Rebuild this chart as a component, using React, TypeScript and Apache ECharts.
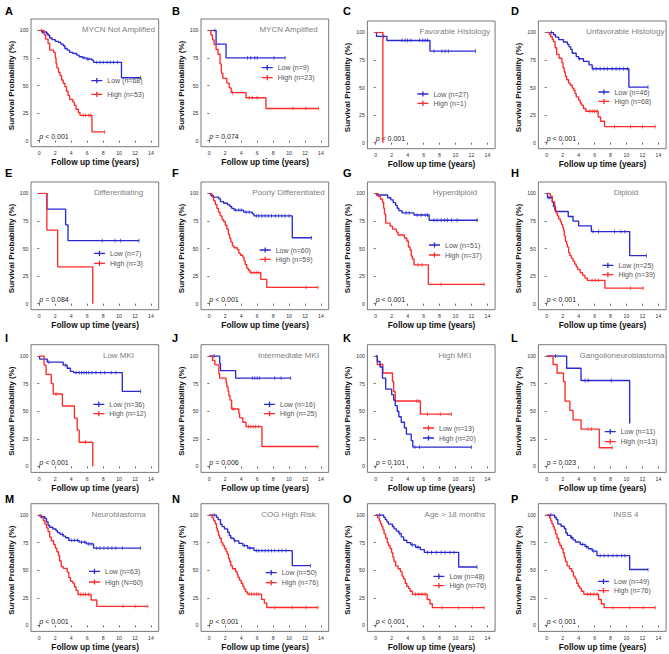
import React, { useEffect, useRef } from 'react';
import * as echarts from 'echarts';

const BLUE = '#2a2ad2';
const RED = '#ff2a2a';
const FONT = '"Liberation Sans", Arial, sans-serif';

// ---------- data: Kaplan-Meier step points [years, survival %], censor times ----------
const aLow = [[0,100],[0.3,98.5],[0.9,97],[1.1,95.5],[1.3,93],[1.6,91.5],[2.0,90],[2.4,89],[2.7,87.5],[3.0,86],[3.2,83.5],[3.5,82],[3.8,80],[4.2,79],[4.7,77.5],[5.0,76],[5.4,75],[5.9,74],[6.6,73],[6.8,71],[10.3,57],[12.7,57]];
const aLowC = [0.4,1.0,5.6,6.1,7.2,7.6,8.0,8.5,8.9,9.3,9.8,12.7];
const aHigh = [[0,100],[0.6,96],[0.8,92],[1.1,88],[1.3,82],[1.8,80],[2.0,75],[2.1,70],[2.2,66],[2.4,62],[2.6,59],[2.8,55],[3.0,52],[3.2,49],[3.4,45],[3.6,41],[3.8,37.5],[4.2,35],[4.4,32],[4.6,28.5],[4.9,25.5],[5.1,23],[6.6,8],[8.2,8]];
const aHighC = [0.3,5.5,5.8,6.2,6.4,8.2];

const bLow = [[0,100],[0.85,87.5],[2.1,75],[9.5,75]];
const bLowC = [0.7,4.8,5.2,5.7,6.0,8.1,9.5];
const bHigh = [[0,100],[0.2,95.7],[0.4,91.3],[0.6,87],[0.85,82.6],[1.1,78.3],[1.35,69.6],[1.5,65.2],[1.55,60.9],[1.7,56.5],[2.2,52.2],[2.5,47.8],[2.75,43.5],[4.6,38.9],[7.1,29.2],[13.7,29.2]];
const bHighC = [2.9,5.0,5.4,6.0,10.5,12.1,13.7];

const cLow = [[0,100],[0.1,96.3],[1.4,92.6],[6.8,83],[12.5,83]];
const cLowC = [1.0,3.3,3.7,4.0,4.4,5.5,5.9,6.2,6.5,7.3,8.3,8.7,9.1,12.5];
const cHigh = [[0,100],[0.9,0]];
const cHighC: number[] = [];

const dLow = [[0,100],[0.85,97.8],[1.1,95.6],[1.5,93.4],[2.1,91.2],[2.6,89],[2.8,86.8],[3.0,84.6],[3.2,81],[3.7,78],[4.0,76],[4.6,73.6],[5.3,70.5],[5.7,67],[10.3,50.3],[12.7,50.3]];
const dLowC = [0.6,4.1,5.8,6.2,6.7,7.2,7.6,8.2,8.7,9.1,9.6,10.1,12.7];
const dHigh = [[0,100],[0.35,98],[0.5,96],[0.7,93.5],[0.85,91.5],[1.05,86],[1.25,80],[1.55,76.5],[1.9,72.5],[2.05,68],[2.2,64],[2.35,60],[2.5,57],[2.75,54],[2.95,52],[3.2,49.5],[3.4,47.5],[3.55,44.5],[3.7,41.5],[4.0,38.5],[4.2,36],[4.35,34],[4.6,31],[4.9,28.5],[6.45,23.3],[6.75,19.4],[7.25,14.6],[13.6,14.6]];
const dHighC = [5.4,5.7,6.0,6.3,8.5,10.5,12.0,13.6];

const eLow = [[0,100],[0.95,85.7],[3.3,71.4],[3.6,57.1],[12.5,57.1]];
const eLowC = [7.9,9.5,10.2,12.5];
const eHigh = [[0,100],[0.95,66.7],[2.3,33.3],[6.7,0]];
const eHighC: number[] = [];

const fLow = [[0,100],[0.15,98.3],[0.5,96.6],[1.2,94.9],[1.4,92.4],[1.8,91],[2.3,89.5],[2.6,88],[2.8,86.4],[3.1,84.7],[4.3,83],[5.4,81.3],[5.6,79.6],[10.4,59.7],[12.8,59.7]];
const fLowC = [0.3,3.3,3.7,4.0,4.6,5.0,5.9,6.2,6.6,7.0,7.4,7.8,8.3,8.7,9.1,9.5,10.0,12.8];
const fHigh = [[0,100],[0.2,98.3],[0.4,96.6],[0.55,93.2],[0.75,89.8],[0.95,86.4],[1.15,83],[1.35,79.6],[1.6,76.2],[1.8,74.5],[2.0,71.1],[2.2,67.7],[2.4,62.6],[2.55,59.2],[2.7,55.8],[2.9,52.4],[3.1,50.7],[3.5,49],[3.7,45.6],[3.9,43.9],[4.2,42.2],[4.35,38.8],[4.5,35.4],[4.7,32],[4.9,30.3],[5.1,28.2],[6.45,22],[7.2,14.8],[13.6,14.8]];
const fHighC = [5.3,5.6,5.9,6.2,12.1,13.6];

const gLow = [[0,100],[0.1,98.5],[1.5,96],[1.9,94.1],[2.2,91.5],[2.5,89],[2.7,86.5],[2.9,84.3],[3.3,82.3],[4.8,80.3],[6.7,75.6],[12.8,75.6]];
const gLowC = [3.8,4.2,5.2,5.7,6.2,6.5,7.3,7.7,8.2,8.6,9.0,9.5,10.2,12.7];
const gHigh = [[0,100],[0.3,97.3],[0.6,94.6],[0.85,91.9],[1.0,86.5],[1.1,81.1],[1.25,73],[1.8,70.3],[2.1,67.6],[2.6,64.9],[2.8,62.2],[3.6,59.5],[3.9,56.8],[4.1,51.4],[4.3,48.6],[4.45,43.2],[4.6,40.5],[4.8,35.1],[6.6,17.5],[13.6,17.5]];
const gHighC = [5.3,5.8,8.2,13.6];

const hLow = [[0,100],[0.1,96],[0.7,92],[0.85,88],[1.1,83.5],[2.7,79],[3.3,74.8],[4.0,70.5],[5.6,65.3],[10.4,43.5],[12.5,43.5]];
const hLowC = [0.3,5.8,6.5,8.5,9.3,9.8,12.5];
const hHigh = [[0,100],[0.45,97.4],[0.7,92.3],[1.0,84.6],[1.2,82],[1.35,79.5],[1.5,76.9],[1.7,74.4],[1.85,71.8],[2.0,69.2],[2.1,66.7],[2.2,61.5],[2.35,56.4],[2.5,53.8],[2.6,51.3],[2.75,46.2],[2.9,43.6],[3.1,41],[3.3,38.5],[3.5,35.9],[3.7,33.3],[3.9,30.8],[4.2,28.2],[4.5,25.6],[4.8,23.1],[5.1,21.1],[7.3,14.1],[12.1,14.1]];
const hHighC = [5.7,6.1,6.5,10.5,12.1];

const iLow = [[0,100],[0.05,97.2],[1.0,94.4],[3.0,91.7],[3.5,88.9],[3.9,86.1],[4.3,85],[10.4,68],[12.7,68]];
const iLowC = [1.2,3.3,4.6,5.0,5.3,5.6,5.9,6.2,6.6,7.1,7.7,8.2,9.0,9.6,12.7];
const iHigh = [[0,100],[0.6,91.7],[0.85,83.3],[1.5,75],[1.75,65.6],[2.9,54.7],[4.4,43.7],[4.75,32.8],[5.0,21.9],[6.7,0]];
const iHighC = [2.1,5.8];

const jLow = [[0,100],[1.3,93.3],[1.4,86.7],[3.3,80],[10.2,80]];
const jLowC = [0.6,5.4,5.7,6.0,6.3,8.2,9.0,10.2];
const jHigh = [[0,100],[0.4,96],[0.7,92],[1.2,84],[1.3,80],[2.1,76],[2.2,72],[2.35,68],[2.45,64],[2.6,60],[2.8,52],[3.7,48],[3.8,44],[4.2,40],[4.6,36],[6.6,18],[13.6,18]];
const jHighC = [3.0,4.9,5.2,5.5,5.8,6.2,13.6];

const kLow = [[0,100],[0.2,92.3],[0.9,84.6],[2.1,76.9],[2.25,67.7],[2.45,59.2],[5.6,47.4],[9.5,47.4]];
const kLowC = [5.1,5.4,6.5,8.1,9.5];
const kHigh = [[0,100],[0.2,95],[0.55,90],[0.85,80],[1.25,70],[2.0,65],[2.25,60],[2.45,55],[2.7,50],[2.9,45],[3.2,40],[3.6,35],[3.85,29.2],[4.45,23.4],[4.65,17.5],[12,17.5]];
const kHighC = [4.9,5.5,12];

const lLow = [[0,100],[2.5,88.9],[4.3,77.8],[10.4,38.9]];
const lLowC = [1.1,4.8,5.2,8.1];
const lHigh = [[0,100],[0.8,92.3],[1.3,84.6],[2.1,76.9],[2.3,59.1],[2.9,50.7],[3.3,42.2],[4.3,33.8],[6.6,16.9],[8.2,16.9]];
const lHighC = [5.2,5.6,8.2];

const mLow = [[0,100],[0.1,98.4],[0.7,96.8],[0.9,93.7],[1.1,90.5],[1.3,88.9],[1.7,87.3],[2.1,85.7],[2.3,84.1],[2.6,82.5],[3.0,80.9],[3.3,79.4],[3.7,77],[5.0,75.4],[5.9,73.8],[6.8,70],[12.7,70]];
const mLowC = [0.3,2.9,4.0,4.4,4.8,5.3,5.7,6.2,6.5,7.2,7.6,8.1,8.6,9.1,9.6,10.4,12.7];
const mHigh = [[0,100],[0.2,98.3],[0.5,95],[0.7,91.7],[0.9,88.3],[1.1,85],[1.3,80],[1.5,76.7],[1.8,73.3],[2.0,70],[2.2,66.7],[2.4,63.3],[2.55,58.3],[2.75,53.3],[3.0,51.7],[3.5,48.3],[3.7,43.3],[3.9,40],[4.2,38.3],[4.4,35],[4.6,31.7],[4.85,28],[6.5,23],[7.2,17.3],[13.6,17.3]];
const mHighC = [5.2,5.5,5.8,6.2,10.5,12.0,13.6];

const nLow = [[0,100],[0.9,97.9],[1.1,95.8],[1.4,91.6],[1.6,89.5],[1.9,87.4],[2.3,84.4],[2.5,81.3],[2.7,78.9],[3.1,76.6],[3.7,74.3],[4.2,72.3],[4.8,70.1],[5.6,67.7],[10.4,54.2],[12.7,54.2]];
const nLowC = [0.6,3.2,4.4,5.1,5.9,6.2,6.6,7.0,7.4,7.8,8.2,8.7,9.1,9.6,12.7];
const nHigh = [[0,100],[0.35,97.4],[0.55,94.7],[0.75,92.1],[0.9,88.2],[1.0,85.5],[1.15,81.6],[1.3,78.9],[1.5,75],[1.7,72.4],[1.9,69.7],[2.1,67.1],[2.25,64.5],[2.4,60.5],[2.55,57.9],[2.7,54],[2.9,51.3],[3.3,48.7],[3.5,46],[3.6,43.4],[3.8,40.8],[4.0,38.2],[4.2,35.5],[4.35,32.9],[4.55,30.3],[4.8,28.3],[6.55,23.6],[6.9,20.2],[7.2,16.2],[13.6,16.2]];
const nHighC = [5.0,5.3,5.6,5.9,6.2,8.2,10.4,12.1,13.6];

const oLow = [[0,100],[1.0,97.9],[1.2,95.8],[1.4,93.8],[1.6,91.7],[2.1,89.6],[2.3,87.5],[2.6,85.4],[2.9,83.3],[3.2,80.2],[3.5,77.1],[3.9,75],[4.4,72.9],[5.0,70.8],[5.6,68.7],[6.1,66.1],[10.4,52.9],[12.7,52.9]];
const oLowC = [0.5,3.0,4.6,5.3,6.5,7.0,7.6,8.2,8.7,9.3,9.8,12.7];
const oHigh = [[0,100],[0.25,97.4],[0.45,94.7],[0.6,92.1],[0.75,89.5],[0.9,86.8],[1.05,82.9],[1.25,78.9],[1.45,75],[1.6,72.4],[1.8,69.7],[2.0,65.8],[2.15,61.8],[2.3,57.9],[2.5,53.9],[2.8,51.3],[3.1,48.7],[3.3,44.7],[3.5,42.1],[3.7,38.2],[3.9,35.5],[4.1,33.6],[4.3,30.9],[4.6,28.2],[6.45,23.5],[6.8,19.6],[7.1,16.1],[13.6,16.1]];
const oHighC = [5.0,5.4,5.8,6.2,8.3,10.4,12.1,13.6];

const pLow = [[0,100],[1.0,98],[1.2,95.9],[1.4,91.8],[1.8,89.8],[2.2,87.8],[2.4,83.7],[2.6,81.6],[3.0,79.6],[3.3,77.5],[3.6,75.5],[4.2,73.4],[4.8,71.4],[5.2,69.4],[5.7,67.3],[6.3,63.2],[10.4,50.6],[12.7,50.6]];
const pLowC = [0.5,3.1,4.5,5.0,5.9,6.7,7.2,7.7,8.3,8.8,9.4,9.8,12.7];
const pHigh = [[0,100],[0.35,97.4],[0.5,94.7],[0.65,92.1],[0.8,89.5],[0.95,86.8],[1.1,82.9],[1.3,78.9],[1.5,75],[1.65,72.4],[1.85,69.7],[2.05,65.8],[2.2,61.8],[2.35,57.9],[2.55,53.9],[2.85,51.3],[3.15,48.7],[3.35,44.7],[3.55,42.1],[3.75,38.2],[3.95,35.5],[4.15,33.6],[4.35,30.9],[4.65,28.2],[6.5,23.5],[6.85,19.6],[7.2,16.1],[13.6,16.1]];
const pHighC = [5.1,5.5,5.9,6.3,8.3,10.4,12.1,13.6];

const letters = ['A','B','C','D','E','F','G','H','I','J','K','L','M','N','O','P'];
const subtitles = ['MYCN Not Amplified','MYCN Amplified','Favorable Histology','Unfavorable Histology','Differentiating','Poorly Differentiated','Hyperdiploid','Diploid','Low MKI','Intermediate MKI','High MKI','Gangolioneuroblastoma','Neuroblastoma','COG High Risk','Age > 18 months','INSS 4'];
const pValues = ['< 0.001','= 0.074','< 0.001','< 0.001','= 0.084','< 0.001','< 0.001','< 0.001','< 0.001','= 0.006','= 0.101','= 0.023','< 0.001','< 0.001','< 0.001','< 0.001'];
const lowLabels = ['Low (n=68)','Low (n=9)','Low (n=27)','Low (n=46)','Low (n=7)','Low (n=60)','Low (n=51)','Low (n=25)','Low (n=36)','Low (n=16)','Low (n=13)','Low (n=11)','Low (n=63)','Low (n=50)','Low (n=48)','Low (n=49)'];
const highLabels = ['High (n=53)','High (n=23)','High (n=1)','High (n=68)','High (n=3)','High (n=59)','High (n=37)','High (n=39)','High (n=12)','High (n=25)','High (n=20)','High (n=13)','High (N=60)','High (n=76)','High (n=76)','High (n=76)'];
const lowSteps = [aLow,bLow,cLow,dLow,eLow,fLow,gLow,hLow,iLow,jLow,kLow,lLow,mLow,nLow,oLow,pLow];
const highSteps = [aHigh,bHigh,cHigh,dHigh,eHigh,fHigh,gHigh,hHigh,iHigh,jHigh,kHigh,lHigh,mHigh,nHigh,oHigh,pHigh];
const lowCens = [aLowC,bLowC,cLowC,dLowC,eLowC,fLowC,gLowC,hLowC,iLowC,jLowC,kLowC,lLowC,mLowC,nLowC,oLowC,pLowC];
const highCens = [aHighC,bHighC,cHighC,dHighC,eHighC,fHighC,gHighC,hHighC,iHighC,jHighC,kHighC,lHighC,mHighC,nHighC,oHighC,pHighC];
const xTicks = { min: 0, max: 14, interval: 2 };
const yTicks = { min: 0, max: 100, interval: 25 };

// ---------- layout ----------
const COL_X = [0, 170, 336.4, 507.4];
const ROW_Y = [0, 163, 325.7, 484.7];
const LETTER_X = [5, 172, 343, 511];
const LETTER_Y = [11, 173, 338, 499];
// legend: text start x (rel. column), first row centre y (rel. row), row spacing
const LEGEND_POS = [
  [107.3, 80.7, 13.7], [107.7, 67.7, 10], [97, 94, 9.3], [107, 92, 9.3],
  [110, 90.3, 10], [105.7, 87, 9.3], [108.6, 82, 10], [111, 102.3, 9.4],
  [109.3, 78.7, 9.3], [110, 78.7, 9.3], [102.6, 102.3, 10], [113.3, 106, 10],
  [105, 86.6, 10.7], [111.7, 88, 10], [113, 91.7, 9.3], [106.6, 96.7, 9.3],
];
const ICON = 'path://M0,2.35H11V3.65H0Z M4.85,0.4H6.15V5.6H4.85Z';

function survivalAt(steps: number[][], t: number) {
  let s = steps[0][1];
  for (const p of steps) {
    if (p[0] <= t) s = p[1];
    else break;
  }
  return s;
}

let measureCtx: CanvasRenderingContext2D | null = null;
function textWidth(text: string, size: number) {
  if (!measureCtx) measureCtx = document.createElement('canvas').getContext('2d');
  if (!measureCtx) return text.length * size * 0.5;
  measureCtx.font = `${size}px "Liberation Sans", Arial, sans-serif`;
  return measureCtx.measureText(text).width;
}

function buildOption() {
  const grid: any[] = [], xAxis: any[] = [], yAxis: any[] = [], series: any[] = [], legend: any[] = [], graphic: any[] = [];
  for (let i = 0; i < 16; i++) {
    const c = i % 4, r = Math.floor(i / 4);
    const shift = r === 0 && c >= 2 ? 2 : 0;
    const gl = COL_X[c] + 39.3, gt = ROW_Y[r] + 30.3 + shift, gw = 111.7, gh = 110.4;
    grid.push({ left: gl, top: gt, width: gw, height: gh });
    xAxis.push({
      gridIndex: i, type: 'value', ...xTicks, offset: 6,
      axisLine: { show: false },
      axisTick: { show: true, length: 2, lineStyle: { color: '#444', width: 0.8 } },
      axisLabel: { fontSize: 5.2, color: '#333', margin: 4, fontFamily: FONT },
      splitLine: { show: false },
      name: 'Follow up time (years)', nameLocation: 'middle', nameGap: 11.5,
      nameTextStyle: { fontSize: 8.3, fontWeight: 'bold', color: '#111', fontFamily: FONT },
    });
    yAxis.push({
      gridIndex: i, type: 'value', ...yTicks, offset: 8.3,
      axisLine: { show: false },
      axisTick: { show: true, length: 2, lineStyle: { color: '#444', width: 0.8 } },
      axisLabel: { fontSize: 5.2, color: '#333', margin: 2.5, fontFamily: FONT },
      splitLine: { show: false },
      name: 'Survival Probability (%)', nameLocation: 'middle', nameGap: 16, nameRotate: 90,
      nameTextStyle: { fontSize: 8, fontWeight: 'bold', color: '#111', fontFamily: FONT },
    });
    const lowColor = i === 10 ? RED : BLUE;
    const highColor = i === 10 ? BLUE : RED;
    const curves = [
      { name: lowLabels[i], steps: lowSteps[i], cens: lowCens[i], color: lowColor },
      { name: highLabels[i], steps: highSteps[i], cens: highCens[i], color: highColor },
    ];
    for (const cv of curves) {
      series.push({
        type: 'line', name: cv.name, xAxisIndex: i, yAxisIndex: i, data: cv.steps, step: 'end',
        symbol: 'none', showSymbol: false, silent: true, color: cv.color,
        lineStyle: { color: cv.color, width: 1.35 }, itemStyle: { color: cv.color }, z: 3,
      });
      series.push({
        type: 'scatter', xAxisIndex: i, yAxisIndex: i, silent: true,
        data: cv.cens.map((t) => [t, survivalAt(cv.steps, t)]),
        symbol: 'rect', symbolSize: [0.9, 3.8], itemStyle: { color: cv.color }, z: 3,
      });
    }
    const lp = LEGEND_POS[i];
    legend.push({
      orient: 'vertical', left: COL_X[c] + lp[0] - 16, top: ROW_Y[r] + lp[1] - 3.5,
      itemWidth: 11, itemHeight: 6, itemGap: lp[2] - 7, padding: 0, icon: ICON,
      selectedMode: false, data: [lowLabels[i], highLabels[i]],
      itemStyle: { borderWidth: 0 },
      textStyle: { fontSize: 7, color: '#555', fontFamily: FONT, lineHeight: 7 },
    });
    // frame
    graphic.push({
      type: 'rect', silent: true, z: 1,
      shape: { x: gl - 8.3, y: gt - 11.3, width: gw + 16, height: 127.7 },
      style: { fill: 'none', stroke: '#555', lineWidth: 0.8 },
    });
    // panel letter
    graphic.push({
      type: 'text', x: LETTER_X[c], y: LETTER_Y[r], silent: true,
      style: { text: letters[i], fontSize: 11, fontWeight: 'bold', fill: '#000', fontFamily: FONT, align: 'left', verticalAlign: 'middle' },
    });
    // subtitle
    const w = textWidth(subtitles[i], 8);
    const cx = Math.min(gl + 79.2, gl + 117.7 - w / 2);
    graphic.push({
      type: 'text', x: cx, y: gt - 1, silent: true,
      style: { text: subtitles[i], fontSize: 8, fill: '#808080', fontFamily: FONT, align: 'center', verticalAlign: 'middle' },
    });
    // p value
    graphic.push({
      type: 'text', x: gl, y: gt + gh - 4, silent: true,
      style: {
        text: '{i|p} ' + pValues[i], fontSize: 7, fill: '#222', fontFamily: FONT, align: 'left', verticalAlign: 'middle',
        rich: { i: { fontStyle: 'italic', fontSize: 7, fill: '#222', fontFamily: FONT } },
      },
    });
  }
  return { animation: false, backgroundColor: '#ffffff', grid, xAxis, yAxis, series, legend, graphic };
}

export default function App() {
  const ref = useRef<HTMLDivElement>(null);
  useEffect(() => {
    if (!ref.current) return;
    const chart = echarts.init(ref.current, undefined, { renderer: 'svg' });
    chart.setOption(buildOption() as any);
    return () => chart.dispose();
  }, []);
  return <div ref={ref} style={{ position: 'absolute', left: 0, top: 0, width: 669, height: 654, background: '#fff' }} />;
}
